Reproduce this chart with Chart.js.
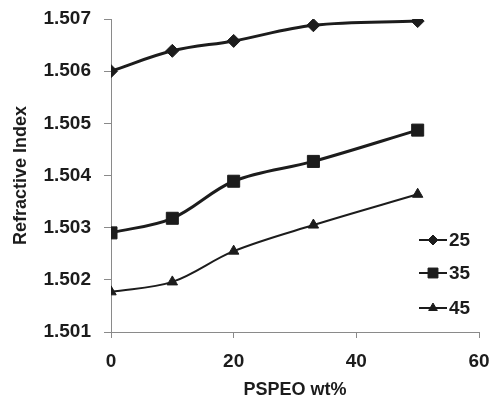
<!DOCTYPE html>
<html>
<head>
<meta charset="utf-8">
<script src="https://cdn.jsdelivr.net/npm/chart.js@4/dist/chart.umd.min.js"></script>
<style>
  html, body { margin: 0; padding: 0; background: #fff; }
  #wrap { width: 492px; height: 398px; }
</style>
</head>
<body>
<div id="wrap"><canvas id="myChart" width="492" height="398"></canvas></div>
<script>
const wtPercent = [0, 10, 20, 33, 50];
const seriesNames = ["25", "35", "45"];
const ri25 = [1.5060, 1.50639, 1.50658, 1.50688, 1.50696];
const ri35 = [1.5029, 1.50318, 1.50389, 1.50427, 1.50487];
const ri45 = [1.50177, 1.50196, 1.50255, 1.50305, 1.50364];
const yTicks = [1.501, 1.502, 1.503, 1.504, 1.505, 1.506, 1.507];
const xTicks = [0, 20, 40, 60];

const ink = "#1c1c1c";
const axisGray = "#8a8a8a";
const font = { family: "'Liberation Sans', Arial, sans-serif", size: 19, weight: "bold" };

function pts(vals) {
  return wtPercent.map((x, i) => ({ x: x, y: vals[i] }));
}

const styles = [
  { pointStyle: "rectRot", radius: 6.5, width: 3 },
  { pointStyle: "rect", radius: 8.5, width: 3 },
  { pointStyle: "triangle", radius: 6, width: 2 },
];
const legendRadius = [5, 7, 5];

const datasets = [ri25, ri35, ri45].map((vals, i) => ({
  label: seriesNames[i],
  data: pts(vals),
  borderColor: ink,
  backgroundColor: ink,
  borderWidth: styles[i].width,
  pointStyle: styles[i].pointStyle,
  pointRadius: styles[i].radius,
  pointBorderWidth: 1,
  tension: 0.35,
}));

// legend drawn inside the plot, at the lower right
const insideLegend = {
  id: "insideLegend",
  afterDraw(chart) {
    const { ctx, chartArea } = chart;
    const x0 = chartArea.right - 60;
    const rows = [240, 273, 308];
    ctx.save();
    chart.data.datasets.forEach((ds, i) => {
      const y = rows[i];
      ctx.strokeStyle = ink;
      ctx.lineWidth = 2;
      ctx.beginPath();
      ctx.moveTo(x0, y);
      ctx.lineTo(x0 + 28, y);
      ctx.stroke();
      ctx.fillStyle = ink;
      ctx.lineWidth = 1;
      Chart.helpers.drawPoint(ctx, {
        pointStyle: ds.pointStyle,
        radius: legendRadius[i],
        rotation: 0,
        borderWidth: 1,
      }, x0 + 14, y);
      ctx.font = "bold 19px 'Liberation Sans', Arial, sans-serif";
      ctx.textAlign = "left";
      ctx.textBaseline = "middle";
      ctx.fillText(ds.label, x0 + 30, y + 1);
    });
    ctx.restore();
  },
};

new Chart(document.getElementById("myChart"), {
  type: "line",
  data: { datasets: datasets },
  options: {
    responsive: false,
    animation: false,
    layout: { padding: { left: 0, right: 13, top: 19, bottom: 0 } },
    plugins: { legend: { display: false }, tooltip: { enabled: false } },
    scales: {
      x: {
        type: "linear",
        min: 0,
        max: 60,
        afterBuildTicks: (axis) => { axis.ticks = xTicks.map((v) => ({ value: v })); },
        afterFit: (axis) => {
          axis.height = 66;
          axis.paddingLeft = 0;
          axis.paddingRight = 0;
        },
        ticks: { color: ink, font: font, padding: 12 },
        grid: { drawOnChartArea: false, drawTicks: true, tickLength: 6, color: axisGray },
        border: { color: axisGray, width: 1 },
        title: { display: true, text: "PSPEO wt%", color: ink, font: { ...font, size: 18 }, padding: { top: 0, bottom: -3 } },
      },
      y: {
        min: 1.501,
        max: 1.507,
        afterBuildTicks: (axis) => { axis.ticks = yTicks.map((v) => ({ value: v })); },
        afterFit: (axis) => {
          axis.width = 111;
          axis.paddingTop = 0;
          axis.paddingBottom = 0;
        },
        ticks: { color: ink, font: font, padding: 13, callback: (v) => v.toFixed(3) },
        grid: { drawOnChartArea: false, drawTicks: true, tickLength: 7, color: axisGray },
        border: { color: axisGray, width: 1 },
        title: {
          display: true,
          text: "Refractive Index",
          color: ink,
          font: { family: "'Liberation Sans Narrow', 'Liberation Sans', Arial, sans-serif", size: 18, weight: "bold" },
          padding: { top: 10, bottom: 0 },
        },
      },
    },
  },
  plugins: [insideLegend],
});
</script>
</body>
</html>
